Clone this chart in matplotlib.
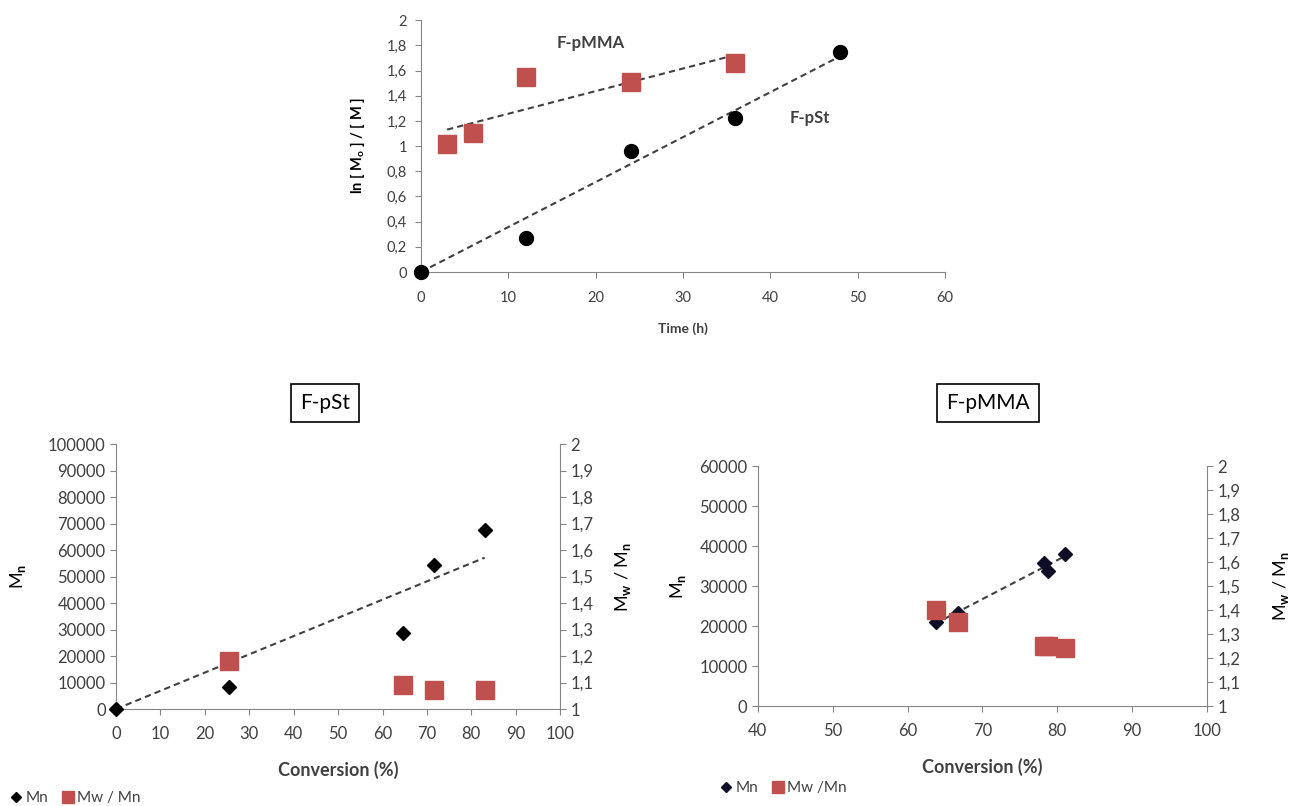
import numpy as np
import matplotlib
matplotlib.use("Agg")
import matplotlib.pyplot as plt
from matplotlib.ticker import FuncFormatter, MultipleLocator
from matplotlib.lines import Line2D

plt.rcParams['font.family'] = ['Lato', 'DejaVu Sans']
plt.rcParams['mathtext.fontset'] = 'custom'
plt.rcParams['mathtext.rm'] = 'Lato:bold'
plt.rcParams['mathtext.it'] = 'Lato:bold'
plt.rcParams['mathtext.bf'] = 'Lato:bold'

# ---- data: kinetics (top) ----
time_pst = [0, 12, 24, 36, 48]
lnM_pst = [0.0, 0.27, 0.96, 1.22, 1.75]
time_pmma = [3, 6, 12, 24, 36]
lnM_pmma = [1.02, 1.10, 1.55, 1.51, 1.66]

# ---- data: F-pSt (bottom left) ----
conv_pst = [0, 25.5, 64.5, 71.5, 83]
mn_pst = [0, 8500, 28800, 54500, 67500]
conv_pst_d = [25.5, 64.5, 71.5, 83]
pdi_pst = [1.18, 1.09, 1.07, 1.07]

# ---- data: F-pMMA (bottom right) ----
conv_pmma = [63.8, 66.7, 78.2, 78.8, 81]
mn_pmma = [21000, 23200, 35800, 33700, 38000]
conv_pmma_d = [63.8, 66.8, 78.2, 78.8, 81]
pdi_pmma = [1.40, 1.35, 1.25, 1.25, 1.24]

RED = '#C0504D'
TXT = '#404040'
SPINE = '#868686'

def comma_fmt(dec):
    def f(v, pos):
        s = f"{v:.{dec}f}".rstrip('0').rstrip('.') if dec else f"{v:.0f}"
        return s.replace('.', ',')
    return FuncFormatter(f)

def style(ax, right=False):
    for s in ['top', 'right']:
        ax.spines[s].set_visible(False)
    for s in ['left', 'bottom']:
        ax.spines[s].set_color(SPINE)
    ax.tick_params(colors=SPINE, labelcolor=TXT, direction='out', length=4)

fig = plt.figure(figsize=(12.91, 8.06), dpi=100)

# ---------------- top chart ----------------
ax = fig.add_axes([0.326, 0.6625, 0.406, 0.3125])
style(ax)
ax.set_xlim(0, 60)
ax.set_ylim(0, 2)
ax.xaxis.set_major_locator(MultipleLocator(10))
ax.yaxis.set_major_locator(MultipleLocator(0.2))
ax.yaxis.set_major_formatter(comma_fmt(1))
ax.tick_params(labelsize=10.5)
ax.tick_params(axis='x', pad=10)
ax.tick_params(axis='y', pad=6)
# trendlines
xs = np.array(time_pst, float); ys = np.array(lnM_pst, float)
k = (xs * ys).sum() / (xs * xs).sum()
ax.plot([xs.min(), xs.max()], [k * xs.min(), k * xs.max()], ls=(0, (3, 2)), color='#404040', lw=1.5, zorder=2)
xm = np.array(time_pmma, float); ym = np.array(lnM_pmma, float)
b1, b0 = np.polyfit(xm, ym, 1)
ax.plot([xm.min(), xm.max()], [b0 + b1 * xm.min(), b0 + b1 * xm.max()], ls=(0, (3, 2)), color='#404040', lw=1.5, zorder=2)
ax.plot(time_pst, lnM_pst, 'o', color='black', ms=10, zorder=3, clip_on=False)
ax.plot(time_pmma, lnM_pmma, 's', color=RED, ms=13, zorder=3, clip_on=False)
ax.text(19.4, 1.82, 'F-pMMA', fontsize=12, fontweight='bold', color=TXT, ha='center', va='center')
ax.text(44.5, 1.22, 'F-pSt', fontsize=12, fontweight='bold', color=TXT, ha='center', va='center')
ax.set_xlabel('Time (h)', fontsize=10, fontweight='bold', color=TXT, labelpad=12)
ax.set_ylabel(r'ln [ M$_o$ ] / [ M ]', fontsize=10.5, fontweight='bold', color='black', labelpad=14)

# ---------------- bottom-left: F-pSt ----------------
ax1 = fig.add_axes([0.0899, 0.1203, 0.344, 0.3287])
style(ax1)
ax1.set_xlim(0, 100)
ax1.set_ylim(0, 100000)
ax1.xaxis.set_major_locator(MultipleLocator(10))
ax1.yaxis.set_major_locator(MultipleLocator(10000))
ax1.tick_params(labelsize=12)
ax1.tick_params(axis='x', pad=8)
xa = np.array(conv_pst, float); ya = np.array(mn_pst, float)
k1 = (xa * ya).sum() / (xa * xa).sum()
ax1.plot([xa.min(), xa.max()], [k1 * xa.min(), k1 * xa.max()], ls=(0, (3, 2)), color='#404040', lw=1.5, zorder=2)
ax1.plot(conv_pst, mn_pst, 'D', color='black', ms=7, zorder=3, clip_on=False)
ax1.set_xlabel('Conversion (%)', fontsize=13, fontweight='bold', color=TXT, labelpad=14)
ax1.set_ylabel(r'M$_n$', fontsize=13, color='black', labelpad=14)
ax1r = ax1.twinx()
ax1r.set_position(ax1.get_position())
ax1r.set_ylim(1, 2)
ax1r.yaxis.set_major_locator(MultipleLocator(0.1))
ax1r.yaxis.set_major_formatter(comma_fmt(1))
for s in ['top', 'left', 'bottom']:
    ax1r.spines[s].set_visible(False)
ax1r.spines['right'].set_color(SPINE)
ax1r.tick_params(colors=SPINE, labelcolor=TXT, direction='out', length=4, labelsize=12)
ax1r.plot(conv_pst_d, pdi_pst, 's', color=RED, ms=13, zorder=3, clip_on=False)
ax1r.set_ylabel(r'M$_w$ / M$_n$', fontsize=13, color='black', labelpad=14)
fig.text(0.2517, 0.5, 'F-pSt', fontsize=15, color='black', ha='center', va='center',
         bbox=dict(boxstyle='square,pad=0.45', fc='white', ec='black', lw=1.2))
fig.legend(handles=[Line2D([], [], marker='D', ls='', color='black', ms=5, label='Mn'),
                    Line2D([], [], marker='s', ls='', color=RED, ms=9, label='Mw / Mn')],
           loc='lower left', bbox_to_anchor=(-0.004, -0.016), ncol=2, frameon=False,
           fontsize=11, handletextpad=0.1, columnspacing=0.8, handlelength=1.0,
           labelcolor=TXT)

# ---------------- bottom-right: F-pMMA ----------------
ax2 = fig.add_axes([0.587, 0.124, 0.348, 0.2978])
style(ax2)
ax2.set_xlim(40, 100)
ax2.set_ylim(0, 60000)
ax2.xaxis.set_major_locator(MultipleLocator(10))
ax2.yaxis.set_major_locator(MultipleLocator(10000))
ax2.tick_params(labelsize=12)
ax2.tick_params(axis='x', pad=8)
xb = np.array(conv_pmma, float); yb = np.array(mn_pmma, float)
c1, c0 = np.polyfit(xb, yb, 1)
ax2.plot([xb.min(), xb.max()], [c0 + c1 * xb.min(), c0 + c1 * xb.max()], ls=(0, (3, 2)), color='#404040', lw=1.5, zorder=2)
ax2.plot(conv_pmma, mn_pmma, 'D', color='#0d0d26', ms=7, zorder=3, clip_on=False)
ax2.set_xlabel('Conversion (%)', fontsize=13, fontweight='bold', color=TXT, labelpad=14)
ax2.set_ylabel(r'M$_n$', fontsize=13, color='black', labelpad=8)
ax2r = ax2.twinx()
ax2r.set_position(ax2.get_position())
ax2r.set_ylim(1, 2)
ax2r.yaxis.set_major_locator(MultipleLocator(0.1))
ax2r.yaxis.set_major_formatter(comma_fmt(1))
for s in ['top', 'left', 'bottom']:
    ax2r.spines[s].set_visible(False)
ax2r.spines['right'].set_color(SPINE)
ax2r.tick_params(colors=SPINE, labelcolor=TXT, direction='out', length=4, labelsize=12)
ax2r.plot(conv_pmma_d, pdi_pmma, 's', color=RED, ms=13, zorder=3, clip_on=False)
ax2r.set_ylabel(r'M$_w$ / M$_n$', fontsize=13, color='black', labelpad=22)
fig.text(0.7653, 0.5, 'F-pMMA', fontsize=15, color='black', ha='center', va='center',
         bbox=dict(boxstyle='square,pad=0.45', fc='white', ec='black', lw=1.2))
fig.legend(handles=[Line2D([], [], marker='D', ls='', color='#0d0d26', ms=5, label='Mn'),
                    Line2D([], [], marker='s', ls='', color=RED, ms=9, label='Mw /Mn')],
           loc='lower left', bbox_to_anchor=(0.546, -0.004), ncol=2, frameon=False,
           fontsize=11, handletextpad=0.1, columnspacing=0.8, handlelength=1.0,
           labelcolor=TXT)

fig.savefig('out.png', dpi=100)
